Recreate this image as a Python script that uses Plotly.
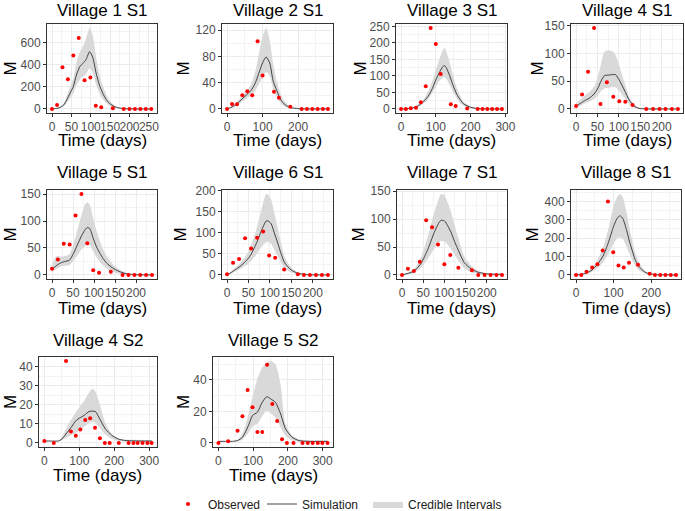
import plotly.graph_objects as go

FONT = "Liberation Sans, Arial, Helvetica, sans-serif"

panel_titles = ["Village 1 S1", "Village 2 S1", "Village 3 S1", "Village 4 S1",
                "Village 5 S1", "Village 6 S1", "Village 7 S1", "Village 8 S1",
                "Village 4 S2", "Village 5 S2"]

# ---------------- Village 1 S1 ----------------
v1s1_obs_t = [0, 13, 27, 41, 55, 69, 84, 99, 113, 127, 157, 185, 200, 214, 228, 242, 256]
v1s1_obs_m = [0, 36, 379, 270, 485, 645, 261, 285, 30, 15, 6, 0, 0, 0, 0, 0, 0]
v1s1_sim_t = [0, 10, 20, 30, 38, 46, 55, 63, 72, 80, 88, 97, 105, 114, 122, 131, 140, 148, 157, 166, 180, 200, 258]
v1s1_mean = [0, 4, 12, 35, 82, 140, 203, 309, 385, 415, 450, 521, 470, 324, 220, 142, 85, 52, 30, 15, 5, 1, 0]
v1s1_low = [0, 2, 8, 24, 55, 95, 140, 215, 270, 295, 320, 370, 330, 220, 145, 90, 52, 30, 16, 8, 2, 0, 0]
v1s1_high = [0, 6, 17, 48, 115, 195, 280, 420, 520, 570, 640, 735, 670, 470, 320, 210, 130, 80, 45, 22, 8, 2, 0]

# ---------------- Village 2 S1 ----------------
v2s1_obs_t = [0, 14, 28, 43, 57, 71, 86, 100, 132, 146, 178, 210, 225, 240, 255, 270, 284]
v2s1_obs_m = [0, 7.5, 7, 21, 27, 21, 103, 51, 26, 17, 3.5, 0, 0, 0, 0, 0, 0]
v2s1_sim_t = [0, 10, 20, 30, 40, 50, 60, 70, 80, 90, 100, 110, 120, 130, 140, 150, 160, 170, 180, 200, 220, 284]
v2s1_mean = [0, 2, 5, 9, 14, 19, 24, 30, 40, 55, 70, 79, 70, 42, 28, 15, 8, 4, 2, 0.5, 0, 0]
v2s1_low = [0, 1, 3, 6, 10, 14, 18, 22, 28, 38, 48, 56, 50, 30, 18, 9, 4, 2, 1, 0, 0, 0]
v2s1_high = [0, 3, 7, 12, 18, 25, 31, 40, 58, 85, 110, 123, 105, 68, 42, 24, 13, 7, 3, 1, 0, 0]

# ---------------- Village 3 S1 ----------------
v3s1_obs_t = [0, 14, 28, 43, 57, 71, 85, 100, 114, 143, 157, 190, 220, 234, 248, 262, 276, 290]
v3s1_obs_m = [0, 0, 2, 4, 20, 69, 245, 197, 106, 14, 9, 1, 0, 0, 0, 0, 0, 0]
v3s1_sim_t = [0, 20, 40, 50, 60, 70, 80, 90, 100, 110, 120, 125, 130, 140, 150, 160, 170, 180, 200, 220, 290]
v3s1_mean = [0, 1, 5, 10, 18, 28, 42, 62, 88, 110, 128, 131, 125, 100, 70, 45, 28, 15, 5, 1, 0]
v3s1_low = [0, 0.5, 3, 7, 13, 20, 32, 48, 68, 85, 95, 96, 92, 72, 50, 32, 18, 9, 3, 0.5, 0]
v3s1_high = [0, 2, 8, 14, 24, 38, 58, 85, 118, 150, 178, 185, 175, 140, 100, 65, 40, 22, 8, 2, 0]

# ---------------- Village 4 S1 ----------------
v4s1_obs_t = [0, 14, 28, 42, 57, 72, 87, 101, 115, 132, 164, 180, 195, 209, 224, 238]
v4s1_obs_m = [5.4, 26, 67, 146, 9, 48, 22, 14, 13, 7, 0, 0, 0, 0, 0, 0]
v4s1_sim_t = [0, 10, 20, 30, 42, 50, 58, 66, 75, 85, 92, 101, 113, 124, 136, 147, 160, 180, 238]
v4s1_mean = [5, 10, 15, 19, 27, 36, 50, 60, 61, 62, 62, 52, 34, 16, 5, 1, 0.3, 0, 0]
v4s1_low = [2, 6, 10, 13, 18, 24, 32, 37, 38, 39, 39, 32, 20, 8, 2, 0.5, 0, 0, 0]
v4s1_high = [10, 17, 24, 30, 40, 56, 80, 103, 106, 104, 98, 78, 48, 22, 8, 2, 0.5, 0, 0]

# ---------------- Village 5 S1 ----------------
v5s1_obs_t = [0, 14, 28, 42, 56, 70, 84, 98, 112, 140, 168, 182, 196, 210, 224, 238]
v5s1_obs_m = [11.5, 28.5, 58, 56.5, 110, 150, 59, 8.5, 4, 6, 0, 0, 0, 0, 0, 0]
v5s1_sim_t = [0, 10, 20, 30, 41, 50, 60, 70, 78, 84, 90, 98, 106, 114, 122, 130, 147, 163, 179, 200, 238]
v5s1_mean = [10, 17, 22, 25, 27, 38, 55, 72, 83, 88, 86, 68, 52, 40, 30, 22, 11.5, 5.5, 2, 0.5, 0]
v5s1_low = [5, 11, 15, 17, 18, 25, 36, 47, 53, 56, 55, 44, 33, 24, 17, 12, 5, 2, 0.5, 0, 0]
v5s1_high = [17, 35, 34, 35, 38, 55, 82, 110, 130, 135, 130, 105, 82, 63, 47, 35, 18, 9, 3, 1, 0]

# ---------------- Village 6 S1 ----------------
v6s1_obs_t = [0, 14, 28, 42, 56, 70, 84, 98, 112, 133, 165, 179, 193, 207, 221, 235]
v6s1_obs_m = [1.6, 29, 38, 87, 63, 88, 103, 46, 41, 13, 1.6, 0, 0, 0, 0, 0]
v6s1_sim_t = [0, 10, 20, 30, 40, 50, 56, 66, 72, 80, 91, 96, 103, 110, 118, 126, 134, 149, 165, 190, 235]
v6s1_mean = [0, 6, 13, 20, 29, 40, 49, 70, 84, 105, 128, 128, 121, 100, 76, 50, 29, 12, 4, 0.5, 0]
v6s1_low = [0, 4, 9, 14, 20, 27, 33, 45, 54, 66, 78, 78, 74, 60, 45, 29, 16, 6, 2, 0, 0]
v6s1_high = [0, 9, 18, 28, 40, 56, 70, 100, 122, 155, 192, 190, 178, 148, 112, 75, 44, 18, 6, 1, 0]

# ---------------- Village 7 S1 ----------------
v7s1_obs_t = [0, 14, 28, 42, 57, 71, 85, 100, 114, 133, 165, 180, 195, 209, 223, 236]
v7s1_obs_m = [0, 11.3, 7.1, 23.8, 98, 85.7, 54.8, 19, 35.7, 13, 8.3, 0, 0, 0, 0, 0]
v7s1_sim_t = [0, 15, 29, 45, 61, 76, 86, 92, 100, 108, 116, 124, 132, 147, 163, 179, 200, 236]
v7s1_mean = [0, 3, 7, 21, 46, 76, 92, 98, 97, 88, 76, 60, 46, 22, 11, 5, 2, 1]
v7s1_low = [0, 1.5, 4, 13, 29, 47, 57, 61, 60, 54, 46, 36, 27, 12, 5, 2, 1, 0.5]
v7s1_high = [0, 5, 11, 32, 70, 112, 135, 145, 143, 130, 112, 90, 68, 33, 17, 8, 3, 1.5]

# ---------------- Village 8 S1 ----------------
v8s1_obs_t = [0, 14, 28, 43, 57, 71, 85, 99, 113, 127, 141, 165, 196, 210, 224, 238, 252, 266]
v8s1_obs_m = [0, 0, 18, 40, 58, 133, 400, 124, 52, 41, 67, 56, 7, 0, 0, 0, 0, 0]
v8s1_sim_t = [0, 14, 28, 43, 57, 72, 86, 100, 110, 117, 125, 135, 142, 150, 157, 165, 174, 183, 191, 210, 266]
v8s1_mean = [0, 3, 10, 28, 58, 103, 175, 265, 310, 322, 305, 240, 184, 130, 85, 52, 31, 16, 9, 2, 0]
v8s1_low = [0, 2, 6, 18, 38, 68, 115, 170, 200, 205, 195, 150, 115, 80, 52, 30, 17, 8, 4, 1, 0]
v8s1_high = [0, 5, 15, 40, 82, 150, 250, 375, 425, 440, 420, 335, 260, 185, 125, 78, 46, 24, 13, 3, 0]

# ---------------- Village 4 S2 ----------------
v4s2_obs_t = [0, 27, 62, 76, 90, 103, 117, 131, 145, 159, 173, 187, 213, 241, 255, 267, 281, 295, 307]
v4s2_obs_m = [1, 0, 43, 6, 3.8, 7, 12, 13, 8, 2.4, 0, 0, 0, 0, 0, 0, 0, 0, 0]
v4s2_sim_t = [0, 20, 40, 50, 62, 76, 92, 114, 128, 137, 146, 156, 174, 193, 212, 230, 249, 280, 307]
v4s2_mean = [1, 1, 1, 2, 4.7, 8, 12, 14.5, 16.5, 16.7, 16.5, 13.5, 7.5, 4, 2, 1.3, 1.1, 1, 1]
v4s2_low = [1, 1, 1, 1.5, 2.5, 4, 5.5, 8.5, 10.5, 11.2, 10.5, 8.5, 4.5, 2, 1, 0.7, 0.6, 0.5, 0.5]
v4s2_high = [1, 1, 1, 3, 7.5, 12, 16.7, 22, 26.5, 28.4, 27, 22, 10.7, 4.6, 2.5, 1.8, 1.6, 1.5, 1.5]

# ---------------- Village 5 S2 ----------------
v5s2_obs_t = [0, 28, 55, 69, 84, 98, 112, 126, 140, 155, 169, 183, 197, 216, 242, 257, 271, 286, 299, 314]
v5s2_obs_m = [0, 1, 7.8, 17, 33.6, 22.6, 7, 7, 49.7, 24.8, 14, 2.3, 0, 0, 0, 0, 0, 0, 0, 0]
v5s2_sim_t = [0, 20, 40, 55, 69, 80, 88, 98, 112, 126, 139, 150, 164, 179, 193, 212, 231, 260, 290, 314]
v5s2_mean = [1, 1, 1, 1.5, 3.6, 8, 12, 17.4, 19.5, 25.8, 29.4, 28, 25.8, 18.4, 8.9, 3.6, 1.5, 1, 1, 1]
v5s2_low = [1, 1, 1, 1, 2, 4.5, 7, 10.5, 12, 17, 20.5, 19, 16, 10, 4.5, 1.5, 0.7, 0.5, 0.5, 0.5]
v5s2_high = [1, 1, 1, 2, 6, 13, 20, 29, 40.6, 48, 51, 52, 50, 37, 12, 4.7, 2.5, 1.5, 1.5, 1.5]

x_tick_step = [50, 100, 100, 50, 50, 50, 50, 100, 100, 100]
y_tick_step = [200, 40, 50, 50, 50, 50, 50, 100, 10, 20]

panels = [
    (v1s1_obs_t, v1s1_obs_m, v1s1_sim_t, v1s1_mean, v1s1_low, v1s1_high),
    (v2s1_obs_t, v2s1_obs_m, v2s1_sim_t, v2s1_mean, v2s1_low, v2s1_high),
    (v3s1_obs_t, v3s1_obs_m, v3s1_sim_t, v3s1_mean, v3s1_low, v3s1_high),
    (v4s1_obs_t, v4s1_obs_m, v4s1_sim_t, v4s1_mean, v4s1_low, v4s1_high),
    (v5s1_obs_t, v5s1_obs_m, v5s1_sim_t, v5s1_mean, v5s1_low, v5s1_high),
    (v6s1_obs_t, v6s1_obs_m, v6s1_sim_t, v6s1_mean, v6s1_low, v6s1_high),
    (v7s1_obs_t, v7s1_obs_m, v7s1_sim_t, v7s1_mean, v7s1_low, v7s1_high),
    (v8s1_obs_t, v8s1_obs_m, v8s1_sim_t, v8s1_mean, v8s1_low, v8s1_high),
    (v4s2_obs_t, v4s2_obs_m, v4s2_sim_t, v4s2_mean, v4s2_low, v4s2_high),
    (v5s2_obs_t, v5s2_obs_m, v5s2_sim_t, v5s2_mean, v5s2_low, v5s2_high),
]

# ---------------- layout geometry (pixels) ----------------
W, H = 685, 511
# left, right, top, bottom of each plot panel
boxes = [
    (47, 157, 24, 113), (222, 333, 24, 113), (396, 507, 24, 113), (571, 683, 24, 113),
    (47, 157, 190, 279), (222, 333, 190, 279), (397, 507, 190, 279), (571, 681, 190, 279),
    (39, 157, 357, 447), (213, 333, 357, 447),
]
title_y = [10, 10, 10, 10, 172, 172, 172, 172, 340, 340]
ylab_x = [10, 183, 360, 537, 10, 180, 358, 532, 10, 183]
xlab_y = [140, 140, 140, 140, 308, 308, 308, 308, 475, 475]

fig = go.Figure()


def expand(vals):
    lo, hi = min(vals), max(vals)
    pad = 0.05 * (hi - lo)
    return [lo - pad, hi + pad]


annotations = []
layout_axes = {}
for i, (ot, om, st, sm, sl, sh) in enumerate(panels):
    k = i + 1
    xa = "x" if k == 1 else f"x{k}"
    ya = "y" if k == 1 else f"y{k}"
    first = (i == 0)
    fig.add_trace(go.Scatter(x=st, y=sl, xaxis=xa, yaxis=ya, mode="lines",
                             line=dict(width=0, shape="spline", smoothing=0.6, color="rgba(0,0,0,0)"),
                             showlegend=False, hoverinfo="skip"))
    fig.add_trace(go.Scatter(x=st, y=sh, xaxis=xa, yaxis=ya, mode="lines", fill="tonexty",
                             fillcolor="#D9D9D9",
                             line=dict(width=0, shape="spline", smoothing=0.6, color="rgba(0,0,0,0)"),
                             name="Credible Intervals", legend="legend3", showlegend=first))
    fig.add_trace(go.Scatter(x=st, y=sm, xaxis=xa, yaxis=ya, mode="lines",
                             line=dict(width=0.8, color="#1a1a1a", shape="spline", smoothing=0.6),
                             name="Simulation", legend="legend2", showlegend=first))
    fig.add_trace(go.Scatter(x=ot, y=om, xaxis=xa, yaxis=ya, mode="markers",
                             marker=dict(size=4, color="#FF0000"),
                             name="Observed", legend="legend", showlegend=first))

    l, r, t, b = boxes[i]
    xr = expand(list(ot) + list(st))
    yr = expand([0] + list(om) + list(sh) + list(sl))
    common = dict(showline=True, mirror=True, linecolor="#333333", linewidth=1,
                  ticks="outside", ticklen=3, tickcolor="#333333", tickwidth=1,
                  tickangle=0,
                  tickfont=dict(family=FONT, size=12, color="#4D4D4D"),
                  showgrid=True, gridcolor="#EBEBEB", gridwidth=1, zeroline=False)
    layout_axes["xaxis" if k == 1 else f"xaxis{k}"] = dict(
        domain=[l / W, r / W], anchor=ya, range=xr, tick0=0, dtick=x_tick_step[i],
        minor=dict(tick0=0, dtick=x_tick_step[i] / 2, showgrid=True, gridcolor="#F3F3F3", gridwidth=1),
        **common)
    layout_axes["yaxis" if k == 1 else f"yaxis{k}"] = dict(
        domain=[1 - b / H, 1 - t / H], anchor=xa, range=yr, tick0=0, dtick=y_tick_step[i],
        minor=dict(tick0=0, dtick=y_tick_step[i] / 2, showgrid=True, gridcolor="#F3F3F3", gridwidth=1),
        **common)

    annotations.append(dict(text=panel_titles[i], x=(l + r) / 2 / W, y=1 - title_y[i] / H,
                            xref="paper", yref="paper", showarrow=False,
                            xanchor="center", yanchor="middle",
                            font=dict(family=FONT, size=17, color="#000000")))
    annotations.append(dict(text="M", x=ylab_x[i] / W, y=1 - (t + b) / 2 / H, textangle=-90,
                            xref="paper", yref="paper", showarrow=False,
                            xanchor="center", yanchor="middle",
                            font=dict(family=FONT, size=17, color="#000000")))
    annotations.append(dict(text="Time (days)", x=(l + r) / 2 / W, y=1 - xlab_y[i] / H,
                            xref="paper", yref="paper", showarrow=False,
                            xanchor="center", yanchor="middle",
                            font=dict(family=FONT, size=17, color="#000000")))

leg_common = dict(orientation="h", bgcolor="rgba(0,0,0,0)", itemwidth=30,
                  font=dict(family=FONT, size=12, color="#1a1a1a"),
                  yanchor="middle", y=1 - 504 / H, xanchor="left")

fig.update_layout(
    width=W, height=H, autosize=False,
    margin=dict(l=0, r=0, t=0, b=0, autoexpand=False),
    paper_bgcolor="white", plot_bgcolor="white",
    annotations=annotations,
    legend=dict(x=168 / W, **leg_common),
    legend2=dict(x=262 / W, **leg_common),
    legend3=dict(x=368 / W, **leg_common),
    **layout_axes,
)

fig.write_html("out.html", config={"displayModeBar": False},
               post_script="document.body.style.margin='0px';document.body.style.overflow='hidden';")
